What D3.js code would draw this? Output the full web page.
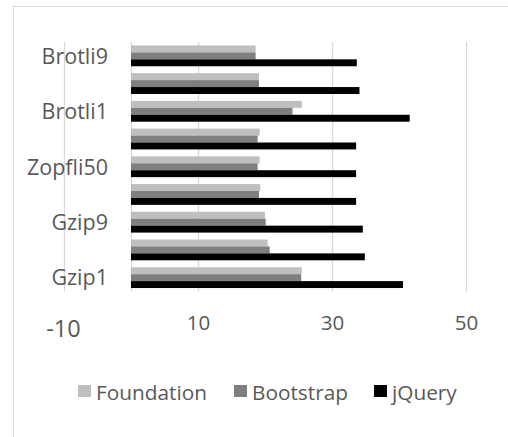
<!DOCTYPE html>
<html>
<head>
<meta charset="utf-8">
<script src="https://cdn.jsdelivr.net/npm/d3@7"></script>
<style>
  html, body { margin: 0; padding: 0; background: #fff; overflow: hidden; }
  svg { display: block; font-family: "Open Sans", sans-serif; }
</style>
</head>
<body>
<svg id="chart" width="508" height="437"></svg>
<script>
// Categories, bottom to top (only every other label is shown in the original)
const categories = ["Gzip1", "", "Gzip9", "", "Zopfli50", "", "Brotli1", "", "Brotli9"];
const seriesNames = ["Foundation", "Bootstrap", "jQuery"];
const foundation = [25.5, 20.4, 20.0, 19.3, 19.2, 19.2, 25.5, 19.1, 18.6];
const bootstrap  = [25.4, 20.7, 20.1, 19.1, 18.9, 18.9, 24.1, 19.1, 18.6];
const jquery     = [40.6, 34.9, 34.6, 33.6, 33.6, 33.6, 41.6, 34.1, 33.7];
const gridTicks  = [-10, 0, 10, 30, 50];
const labelTicks = [-10, 10, 30, 50];
const colors = ["#bfbfbf", "#7f7f7f", "#000000"];

const seriesValues = [foundation, bootstrap, jquery];
const rows = categories.map((c, i) => ({ idx: i, name: c, values: seriesValues.map(s => s[i]) }));

const svg = d3.select("#chart");

// Chart-area border (only top and left edges visible)
svg.append("rect")
  .attr("x", 13.5).attr("y", 6.5)
  .attr("width", 600).attr("height", 600)
  .attr("fill", "none").attr("stroke", "#d9d9d9").attr("stroke-width", 1);

const plotTop = 42, plotBottom = 291.5;
const x = d3.scaleLinear().domain([-10, 50]).range([64, 466]);
// bottom-to-top: index 0 at bottom
const y = d3.scaleBand().domain(d3.range(categories.length))
  .range([plotBottom, plotTop]).paddingInner(0.25).paddingOuter(0.125);
const yInner = d3.scaleBand().domain(seriesNames).range([0, y.bandwidth()]);
const color = d3.scaleOrdinal().domain(seriesNames).range(colors);

// Gridlines
svg.append("g").selectAll("line").data(gridTicks).join("line")
  .attr("x1", d => Math.round(x(d)) + 0.5).attr("x2", d => Math.round(x(d)) + 0.5)
  .attr("y1", plotTop).attr("y2", plotBottom)
  .attr("stroke", "#d9d9d9").attr("stroke-width", 1.3);

// Bars
const groups = svg.append("g").selectAll("g").data(rows).join("g")
  .attr("transform", d => `translate(0,${y(d.idx)})`);
groups.selectAll("rect")
  .data(d => d.values.map((v, k) => ({ key: seriesNames[k], value: v })))
  .join("rect")
  .attr("x", x(0))
  .attr("y", d => yInner(d.key))
  .attr("width", d => x(d.value) - x(0))
  .attr("height", yInner.bandwidth())
  .attr("fill", d => color(d.key));

// Category axis (labels only)
const yAxis = d3.axisLeft(y).tickSize(0).tickFormat(i => categories[i]);
const gy = svg.append("g").attr("transform", "translate(108,0)").call(yAxis);
gy.select(".domain").remove();
gy.selectAll("text")
  .attr("x", 0).attr("dy", "0.36em")
  .attr("fill", "#595959")
  .style("font-family", "'Open Sans', sans-serif")
  .style("font-size", "21.5px");

// Value axis labels
const xAxis = d3.axisBottom(x).tickValues(labelTicks).tickSize(0).tickFormat(d => String(d));
const gx = svg.append("g").attr("transform", "translate(0,330)").call(xAxis);
gx.select(".domain").remove();
gx.selectAll("text")
  .attr("y", 0).attr("dy", 0)
  .attr("fill", "#595959")
  .style("font-family", "'Open Sans', sans-serif")
  .style("font-size", d => d === -10 ? "23.5px" : "20.5px")
  .attr("transform", d => d === -10 ? "translate(-1,7)" : null);

// Legend
const legendX = [78, 234, 374];
const legend = svg.append("g").selectAll("g").data(seriesNames).join("g")
  .attr("transform", (d, i) => `translate(${legendX[i]},385)`);
legend.append("rect")
  .attr("width", 13).attr("height", 12)
  .attr("fill", d => color(d));
legend.append("text")
  .attr("x", 18).attr("y", 14.5)
  .attr("fill", "#595959")
  .style("font-size", "20.8px")
  .text(d => d);
</script>
</body>
</html>
